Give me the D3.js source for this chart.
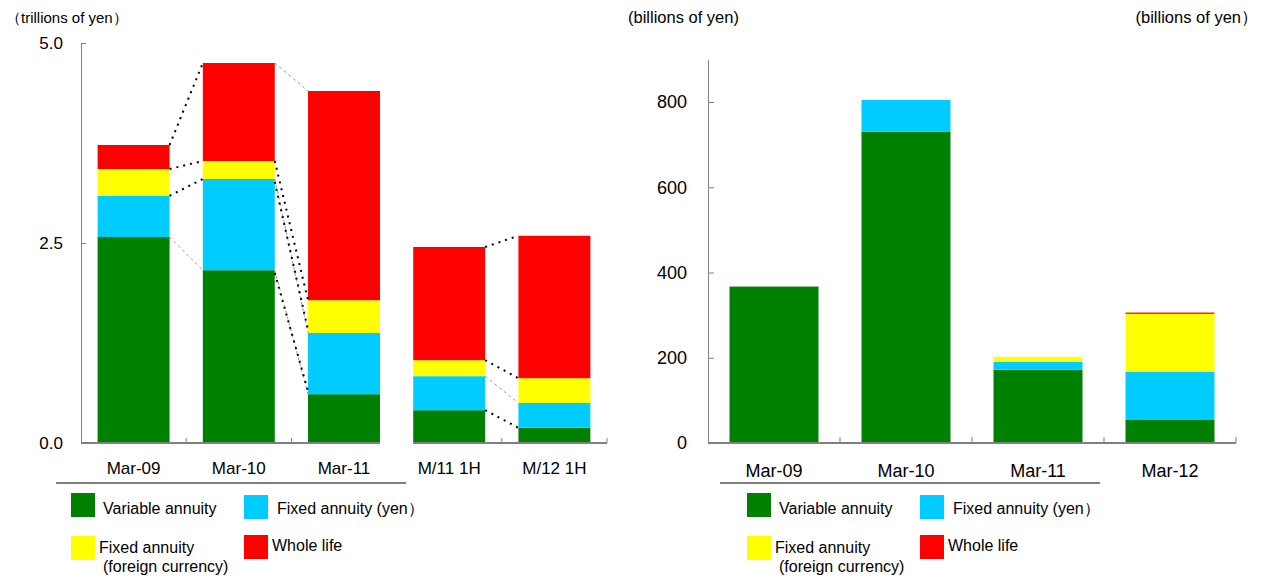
<!DOCTYPE html>
<html>
<head>
<meta charset="utf-8">
<script src="https://cdn.jsdelivr.net/npm/d3@7"></script>
<style>
  body { margin: 0; background: #fff; }
  text { font-family: "Liberation Sans", Arial, sans-serif; fill: #000; }
</style>
</head>
<body>
<div id="chart"></div>
<script>
// categories
const leftCats = ["Mar-09", "Mar-10", "Mar-11", "M/11 1H", "M/12 1H"];
const rightCats = ["Mar-09", "Mar-10", "Mar-11", "Mar-12"];

// left chart, trillions of yen
const leftVariable = [2.575, 2.16, 0.61, 0.41, 0.19];
const leftFixedYen = [0.515, 1.14, 0.765, 0.425, 0.31];
const leftFixedFx = [0.335, 0.225, 0.41, 0.2, 0.31];
const leftWholeLife = [0.3, 1.225, 2.615, 1.415, 1.78];
const leftTicks = [0, 2.5, 5.0];

// right chart, billions of yen
const rightVariable = [367, 730, 172, 54];
const rightFixedYen = [0, 75, 18, 113];
const rightFixedFx = [0, 0, 12, 136];
const rightWholeLife = [0, 0, 0, 3];
const rightTicks = [0, 200, 400, 600, 800];

const seriesNames = ["Variable annuity", "Fixed annuity (yen）", "Fixed annuity", "Whole life"];
const keys = ["variable", "fixedYen", "fixedFx", "wholeLife"];

const color = d3.scaleOrdinal()
  .domain(keys)
  .range(["#008000", "#00ccff", "#ffff00", "#ff0000"]);

const svg = d3.select("#chart")
  .append("svg")
  .attr("width", 1264)
  .attr("height", 576);

function buildRows(cats, a, b, c, d) {
  return cats.map((cat, i) => ({
    cat,
    variable: a[i],
    fixedYen: b[i],
    fixedFx: c[i],
    wholeLife: d[i]
  }));
}

// ---------- left chart ----------
const leftRows = buildRows(leftCats, leftVariable, leftFixedYen, leftFixedFx, leftWholeLife);
const leftStack = d3.stack().keys(keys)(leftRows);

const xL = d3.scaleBand()
  .domain(leftCats)
  .range([81, 607])
  .paddingInner(0.316)
  .paddingOuter(0.158);
const yL = d3.scaleLinear().domain([0, 5]).range([443, 43]);

const gL = svg.append("g");

gL.selectAll("g.layer")
  .data(leftStack)
  .join("g")
  .attr("class", "layer")
  .attr("fill", (d) => color(d.key))
  .selectAll("rect")
  .data((d) => d)
  .join("rect")
  .attr("x", (d) => xL(d.data.cat))
  .attr("width", xL.bandwidth())
  .attr("y", (d) => yL(d[1]))
  .attr("height", (d) => yL(d[0]) - yL(d[1]));

// connector lines between bars (b = black dotted, g = grey dashed)
const leftLinks = [
  { from: 0, to: 1, styles: ["g", "b", "b", "b"] },
  { from: 1, to: 2, styles: ["bg", "bg", "b", "g"] },
  { from: 3, to: 4, styles: ["b", "g", "b", "b"] }
];
leftLinks.forEach((lk) => {
  leftStack.forEach((layer, k) => {
    const st = lk.styles[k];
    const x1 = xL(leftCats[lk.from]) + xL.bandwidth();
    const y1 = yL(layer[lk.from][1]);
    const x2 = xL(leftCats[lk.to]);
    const y2 = yL(layer[lk.to][1]);
    if (st.includes("g")) {
      gL.append("line")
        .attr("x1", x1).attr("y1", y1).attr("x2", x2).attr("y2", y2)
        .attr("stroke", "#999")
        .attr("stroke-width", 1)
        .attr("stroke-dasharray", "3,3");
    }
    if (st.includes("b")) {
      gL.append("line")
        .attr("x1", x1).attr("y1", y1 + (st === "bg" ? 3 : 0)).attr("x2", x2).attr("y2", y2 + (st === "bg" ? -3 : 0))
        .attr("stroke", "#000")
        .attr("stroke-width", 2)
        .attr("stroke-dasharray", "2,5");
    }
  });
});

// y axis
const axL = gL.append("g")
  .attr("transform", "translate(81,0)")
  .call(d3.axisLeft(yL).tickValues(leftTicks).tickFormat(d3.format(".1f"))
    .tickSizeInner(-5).tickSizeOuter(0).tickPadding(18));
axL.selectAll("path, line").attr("stroke", "#808080");
axL.selectAll("text").style("font-size", "17px").style("font-family", "Liberation Sans, Arial, sans-serif");

// x baseline, broken between the annual and half-year groups
const stepL = xL.step();
const halfGapL = (stepL - xL.bandwidth()) / 2;
const baseSegsL = [
  [xL.range()[0], xL("Mar-11") + xL.bandwidth()],
  [xL("M/11 1H"), xL.range()[1]]
];
gL.selectAll("line.base")
  .data(baseSegsL)
  .join("line")
  .attr("class", "base")
  .attr("x1", (d) => d[0]).attr("x2", (d) => d[1])
  .attr("y1", yL(0)).attr("y2", yL(0))
  .attr("stroke", "#808080").attr("stroke-width", 2);
const bTicksL = ["Mar-10", "Mar-11", "M/12 1H"].map((c) => xL(c) - halfGapL).concat([xL.range()[1]]);
gL.selectAll("line.btick")
  .data(bTicksL)
  .join("line")
  .attr("class", "btick")
  .attr("x1", (d) => d).attr("x2", (d) => d)
  .attr("y1", yL(0)).attr("y2", yL(0) - 5)
  .attr("stroke", "#808080");

gL.selectAll("text.cat")
  .data(leftCats)
  .join("text")
  .attr("class", "cat")
  .attr("x", (d) => xL(d) + xL.bandwidth() / 2)
  .attr("y", 474)
  .attr("text-anchor", "middle")
  .style("font-size", "17px")
  .text((d) => d);

gL.append("text")
  .attr("x", 6).attr("y", 23)
  .style("font-size", "15px")
  .text("（trillions of yen）");

// ---------- right chart ----------
const rightRows = buildRows(rightCats, rightVariable, rightFixedYen, rightFixedFx, rightWholeLife);
const rightStack = d3.stack().keys(keys)(rightRows);

const xR = d3.scaleBand()
  .domain(rightCats)
  .range([708, 1236])
  .paddingInner(0.326)
  .paddingOuter(0.163);
const yR = d3.scaleLinear().domain([0, 900]).range([443, 443 - 900 * 341 / 800]);

const gR = svg.append("g");

gR.selectAll("g.layer")
  .data(rightStack)
  .join("g")
  .attr("class", "layer")
  .attr("fill", (d) => color(d.key))
  .selectAll("rect")
  .data((d) => d)
  .join("rect")
  .attr("x", (d) => xR(d.data.cat))
  .attr("width", xR.bandwidth())
  .attr("y", (d) => yR(d[1]))
  .attr("height", (d) => yR(d[0]) - yR(d[1]));

const axR = gR.append("g")
  .attr("transform", "translate(708,0)")
  .call(d3.axisLeft(yR).tickValues(rightTicks)
    .tickSizeInner(-6).tickSizeOuter(0).tickPadding(21));
axR.selectAll("path, line").attr("stroke", "#808080");
axR.selectAll("text").style("font-size", "18px").style("font-family", "Liberation Sans, Arial, sans-serif");

gR.append("line")
  .attr("x1", xR.range()[0]).attr("x2", xR.range()[1])
  .attr("y1", yR(0)).attr("y2", yR(0))
  .attr("stroke", "#808080").attr("stroke-width", 2);
const halfGapR = (xR.step() - xR.bandwidth()) / 2;
const bTicksR = rightCats.slice(1).map((c) => xR(c) - halfGapR).concat([xR.range()[1]]);
gR.selectAll("line.btick")
  .data(bTicksR)
  .join("line")
  .attr("class", "btick")
  .attr("x1", (d) => d).attr("x2", (d) => d)
  .attr("y1", yR(0)).attr("y2", yR(0) - 6)
  .attr("stroke", "#808080");

gR.selectAll("text.cat")
  .data(rightCats)
  .join("text")
  .attr("class", "cat")
  .attr("x", (d) => xR(d) + xR.bandwidth() / 2)
  .attr("y", 477)
  .attr("text-anchor", "middle")
  .style("font-size", "18px")
  .text((d) => d);

gR.append("text")
  .attr("x", 628).attr("y", 23)
  .style("font-size", "16.5px")
  .text("(billions of yen)");
gR.append("text")
  .attr("x", 1258).attr("y", 23)
  .attr("text-anchor", "end")
  .style("font-size", "16.5px")
  .text("(billions of yen）");

// ---------- legends ----------
function drawLegend(x0, lineFrom, lineTo) {
  svg.append("line")
    .attr("x1", lineFrom).attr("x2", lineTo)
    .attr("y1", 483).attr("y2", 483)
    .attr("stroke", "#808080").attr("stroke-width", 2);

  const items = [
    { key: "variable", dx: 0, y: 493, tx: 32, ty: 514 },
    { key: "fixedYen", dx: 173, y: 495, tx: 33, ty: 514 },
    { key: "fixedFx", dx: 0, y: 536, tx: 28, ty: 553 },
    { key: "wholeLife", dx: 173, y: 535, tx: 28, ty: 551 }
  ];
  const lg = svg.append("g");
  items.forEach((it, i) => {
    lg.append("rect")
      .attr("x", x0 + it.dx).attr("y", it.y)
      .attr("width", 24).attr("height", 24)
      .attr("fill", color(it.key));
    lg.append("text")
      .attr("x", x0 + it.dx + it.tx).attr("y", it.ty)
      .style("font-size", "16px")
      .text(seriesNames[i]);
  });
  lg.append("text")
    .attr("x", x0 + 32).attr("y", 572)
    .style("font-size", "16px")
    .text("(foreign currency)");
}
drawLegend(71, 56, 406);
drawLegend(747, 720, 1100);
</script>
</body>
</html>
